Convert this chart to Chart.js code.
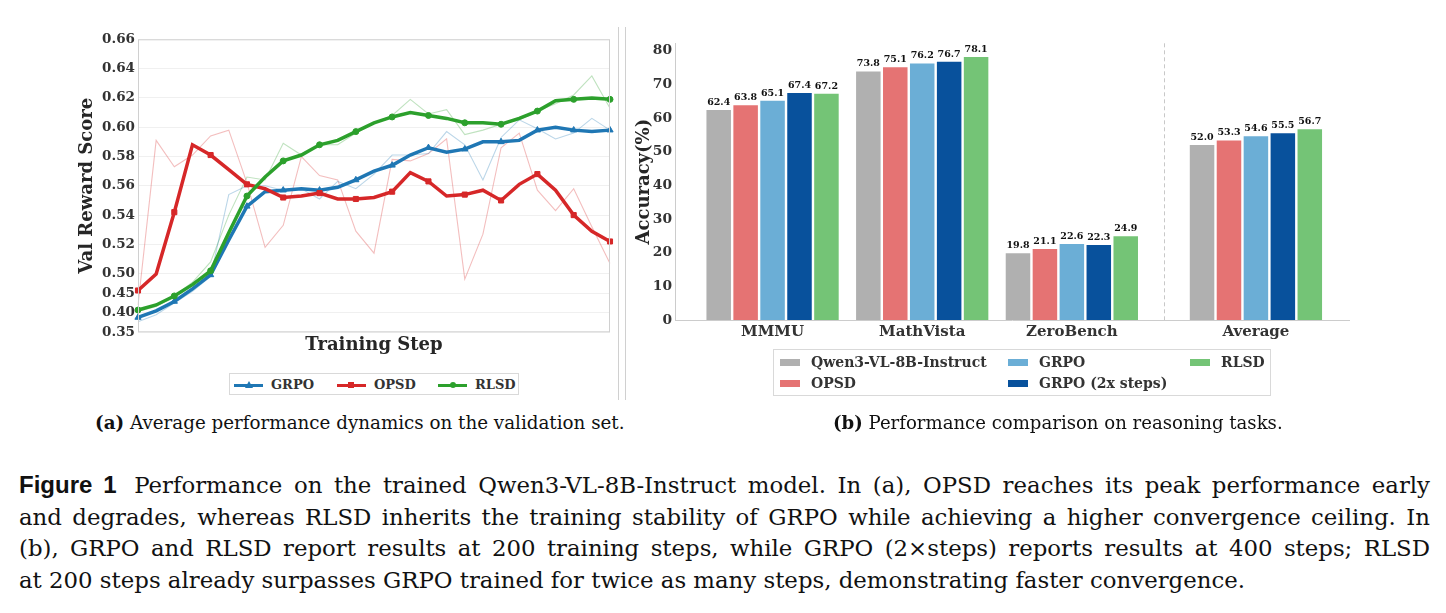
<!DOCTYPE html>
<html>
<head>
<meta charset="utf-8">
<script src="https://cdn.jsdelivr.net/npm/chart.js@4.4.0/dist/chart.umd.min.js"></script>
<style>
body { margin: 0; background: #fff; width: 1446px; height: 613px; position: relative; overflow: hidden; }
.abs { position: absolute; }
.legend { position: absolute; border: 1px solid #d9d9d9; box-sizing: border-box; font-family: "DejaVu Serif"; font-weight: bold; color: #333; }
.litem { position: absolute; white-space: nowrap; }
.txt { font-family: "DejaVu Serif", serif; color: #111; }
.sub { position: absolute; font-size: 19px; white-space: nowrap; line-height: 24px; }
.cap { position: absolute; left: 19px; width: 1411px; top: 469px; font-size: 22px; line-height: 31.7px; }
.cap div { text-align: justify; text-align-last: justify; white-space: nowrap; }
.cap div.last { text-align-last: left; }
.cap.measuring div { text-align: left; text-align-last: left; }
.figlab { font-family: "Liberation Sans"; font-weight: bold; font-size: 24px; margin-right: 6px; }
.divider { position: absolute; top: 27px; height: 373px; width: 1px; background: #d0d0d0; }
</style>
</head>
<body>
<canvas id="dynChart" class="abs" width="575" height="340" style="left:40px;top:20px"></canvas>
<canvas id="accChart" class="abs" width="760" height="330" style="left:600px;top:25px"></canvas>
<div class="divider" style="left:618px"></div>
<div class="divider" style="left:625px"></div>
<div id="dynLegend" class="legend" style="left:229px;top:373px;width:290px;height:22px;font-size:13px"></div>
<div id="accLegend" class="legend" style="left:773px;top:349px;width:498px;height:47px;font-size:14px"></div>
<div id="subA" class="sub txt" style="left:95px;top:411px" data-w="530"><b>(a)</b> Average performance dynamics on the validation set.</div>
<div id="subB" class="sub txt" style="left:833px;top:411px" data-w="450"><b>(b)</b> Performance comparison on reasoning tasks.</div>
<div id="cap" class="cap txt measuring">
<div><span class="capLine"><span class="figlab">Figure 1</span> Performance on the trained Qwen3-VL-8B-Instruct model. In (a), OPSD reaches its peak performance early</span></div>
<div><span class="capLine">and degrades, whereas RLSD inherits the training stability of GRPO while achieving a higher convergence ceiling. In</span></div>
<div><span class="capLine">(b), GRPO and RLSD report results at 200 training steps, while GRPO (2×steps) reports results at 400 steps; RLSD</span></div>
<div class="last"><span class="capLine">at 200 steps already surpasses GRPO trained for twice as many steps, demonstrating faster convergence.</span></div>
</div>
<script>
// (a) validation curves
let steps = [0, 8, 16, 24, 32, 40, 48, 56, 64, 72, 80, 88, 96, 104, 112, 120, 128, 136, 144, 152, 160, 168, 176, 184, 192, 200, 208];
let yTicks = [0.35, 0.40, 0.45, 0.50, 0.52, 0.54, 0.56, 0.58, 0.60, 0.62, 0.64, 0.66];

let grpoRaw = [0.377, 0.395, 0.425, 0.455, 0.493, 0.554, 0.560, 0.560, 0.557, 0.558, 0.551, 0.563, 0.558, 0.568, 0.581, 0.581, 0.582, 0.597, 0.588, 0.564, 0.593, 0.605, 0.599, 0.592, 0.596, 0.606, 0.598];
let grpoSmooth = [0.388, 0.405, 0.429, 0.461, 0.497, 0.523, 0.546, 0.556, 0.557, 0.558, 0.557, 0.559, 0.564, 0.570, 0.574, 0.581, 0.586, 0.583, 0.585, 0.590, 0.590, 0.591, 0.598, 0.600, 0.598, 0.597, 0.598];
let opsdRaw = [0.420, 0.591, 0.573, 0.581, 0.594, 0.598, 0.562, 0.518, 0.533, 0.580, 0.567, 0.564, 0.529, 0.514, 0.578, 0.577, 0.582, 0.592, 0.486, 0.527, 0.586, 0.596, 0.557, 0.543, 0.558, 0.532, 0.507];
let opsdSmooth = [0.457, 0.499, 0.542, 0.588, 0.581, 0.571, 0.561, 0.558, 0.552, 0.553, 0.555, 0.551, 0.551, 0.552, 0.556, 0.569, 0.563, 0.553, 0.554, 0.557, 0.550, 0.561, 0.568, 0.557, 0.540, 0.529, 0.522];
let rlsdRaw = [0.403, 0.416, 0.443, 0.478, 0.508, 0.540, 0.566, 0.564, 0.589, 0.581, 0.588, 0.588, 0.596, 0.603, 0.608, 0.619, 0.609, 0.612, 0.595, 0.598, 0.602, 0.605, 0.611, 0.616, 0.622, 0.635, 0.613];
let rlsdSmooth = [0.407, 0.420, 0.443, 0.472, 0.502, 0.528, 0.553, 0.566, 0.577, 0.581, 0.588, 0.591, 0.597, 0.603, 0.607, 0.610, 0.608, 0.606, 0.603, 0.603, 0.602, 0.606, 0.611, 0.618, 0.619, 0.620, 0.619];

// (b) accuracy bars
let benchmarks = ['MMMU', 'MathVista', 'ZeroBench', 'Average'];
let benchPos = [0, 1, 2, 3.23];
let accTicks = [0, 10, 20, 30, 40, 50, 60, 70, 80];
let qwenAcc = [62.4, 73.8, 19.8, 52.0];
let opsdAcc = [63.8, 75.1, 21.1, 53.3];
let grpoAcc = [65.1, 76.2, 22.6, 54.6];
let grpo2xAcc = [67.4, 76.7, 22.3, 55.5];
let rlsdAcc = [67.2, 78.1, 24.9, 56.7];

const serifBold = (size) => ({ family: 'DejaVu Serif', weight: 'bold', size: size });

// y axis of (a): 0.35-0.50 squeezed, 0.50-0.66 in 0.02 steps
function toUnit(v) { return v >= 0.5 ? (v - 0.5) / 0.02 : (v - 0.5) / 0.075; }
function fromUnit(u) { return u >= 0 ? 0.5 + u * 0.02 : 0.5 + u * 0.075; }
class SplitScale extends Chart.LinearScale {
	buildTicks() { return yTicks.map(v => ({ value: v })); }
	getPixelForValue(v) {
		const lo = toUnit(this.min), hi = toUnit(this.max);
		return this.getPixelForDecimal((toUnit(v) - lo) / (hi - lo));
	}
	getValueForPixel(p) {
		const lo = toUnit(this.min), hi = toUnit(this.max);
		return fromUnit(lo + this.getDecimalForPixel(p) * (hi - lo));
	}
}
SplitScale.id = 'split';
SplitScale.defaults = {};
Chart.register(SplitScale);

const boxPlugin = {
	id: 'box',
	afterDatasetsDraw(chart) {
		const a = chart.chartArea, c = chart.ctx;
		c.save();
		c.strokeStyle = '#d0d0d0';
		c.lineWidth = 1;
		c.strokeRect(a.left + 0.5, a.top + 0.5, a.right - a.left - 1, a.bottom - a.top - 1);
		c.restore();
	}
};

const everyOther = (r) => (ctx) => ctx.dataIndex % 2 === 0 ? r : 0;

function smoothSet(label, data, color, style, r, order) {
	return {
		label: label, data: data, borderColor: color, backgroundColor: color,
		borderWidth: 3.5, pointStyle: style, pointRadius: everyOther(r), pointHoverRadius: 0,
		pointBorderWidth: 1, tension: 0, order: order
	};
}
function rawSet(data, color) {
	return { label: '_raw', data: data, borderColor: color, borderWidth: 1.1, pointRadius: 0, tension: 0, order: 10 };
}

var dynChart = new Chart(document.getElementById('dynChart'), {
	type: 'line',
	data: {
		labels: steps,
		datasets: [
			rawSet(grpoRaw, 'rgba(31,119,180,0.3)'),
			rawSet(opsdRaw, 'rgba(214,39,40,0.3)'),
			rawSet(rlsdRaw, 'rgba(44,160,44,0.3)'),
			smoothSet('GRPO', grpoSmooth, '#1f77b4', 'triangle', 3.6, 3),
			smoothSet('OPSD', opsdSmooth, '#d62728', 'rect', 3.6, 2),
			smoothSet('RLSD', rlsdSmooth, '#2ca02c', 'circle', 3, 1)
		]
	},
	options: {
		responsive: false,
		animation: false,
		events: [],
		layout: { padding: { top: 19.3, right: 5, left: 0, bottom: 0 } },
		plugins: { legend: { display: false }, tooltip: { enabled: false } },
		scales: {
			x: {
				offset: false,
				ticks: { display: false },
				grid: { display: false, drawTicks: false, tickLength: 0 },
				border: { display: false },
				title: { display: true, text: 'Training Step', font: serifBold(18), color: '#262626', padding: { top: 0, bottom: 4 } },
				afterFit: (s) => { s.height = 27.7; }
			},
			y: {
				type: 'split',
				min: 0.35,
				max: 0.66,
				ticks: { autoSkip: false, padding: 3, font: serifBold(13.5), color: '#333', callback: (v) => Number(v).toFixed(2) },
				grid: { color: 'rgba(0,0,0,0.06)', drawTicks: false, tickLength: 0 },
				border: { display: false },
				title: { display: true, text: 'Val Reward Score', font: serifBold(18), color: '#262626', padding: { top: 37, bottom: 0 } },
				afterFit: (s) => { s.width = 98; }
			}
		}
	},
	plugins: [boxPlugin]
});

// bar value labels and the dashed separator before "Average"
const barLabels = {
	id: 'barLabels',
	afterDatasetsDraw(chart) {
		const c = chart.ctx;
		c.save();
		c.font = 'bold 9.5px "DejaVu Serif"';
		c.fillStyle = '#111';
		c.textAlign = 'center';
		c.textBaseline = 'bottom';
		chart.data.datasets.forEach((ds, i) => {
			chart.getDatasetMeta(i).data.forEach((bar, j) => {
				c.fillText(ds.data[j].toFixed(1), bar.x, bar.y - 3);
			});
		});
		const xs = chart.scales.x;
		const sx = Math.round(xs.getPixelForValue((benchPos[2] + benchPos[3]) / 2)) + 0.5;
		c.strokeStyle = '#c8c8c8';
		c.lineWidth = 1;
		c.setLineDash([4, 3]);
		c.beginPath();
		c.moveTo(sx, chart.chartArea.top);
		c.lineTo(sx, chart.chartArea.bottom);
		c.stroke();
		c.restore();
	}
};

function barSet(label, data, color) {
	return { label: label, data: data, backgroundColor: color, borderWidth: 0, barPercentage: 0.91, categoryPercentage: 0.9 };
}

var accChart = new Chart(document.getElementById('accChart'), {
	type: 'bar',
	data: {
		labels: benchPos,
		datasets: [
			barSet('Qwen3-VL-8B-Instruct', qwenAcc, '#b0b0b0'),
			barSet('OPSD', opsdAcc, '#e57373'),
			barSet('GRPO', grpoAcc, '#6baed6'),
			barSet('GRPO (2x steps)', grpo2xAcc, '#08519c'),
			barSet('RLSD', rlsdAcc, '#74c476')
		]
	},
	options: {
		responsive: false,
		animation: false,
		events: [],
		layout: { padding: { top: 18.3, right: 10.7, left: 0, bottom: 0 } },
		plugins: { legend: { display: false }, tooltip: { enabled: false } },
		scales: {
			x: {
				type: 'linear',
				offset: false,
				min: -0.652,
				max: 3.854,
				afterBuildTicks: (s) => { s.ticks = benchPos.map(v => ({ value: v })); },
				ticks: { autoSkip: false, maxRotation: 0, padding: 3, font: serifBold(15), color: '#333',
					callback: (v, i) => benchmarks[i] },
				grid: { display: false, drawTicks: false, tickLength: 0 },
				border: { display: true, color: '#cccccc' },
				afterFit: (s) => { s.height = 35; }
			},
			y: {
				min: 0,
				max: 82.2,
				afterBuildTicks: (s) => { s.ticks = accTicks.map(v => ({ value: v })); },
				ticks: { padding: 3, font: serifBold(13.8), color: '#333' },
				grid: { display: false, drawTicks: false, tickLength: 0 },
				border: { display: true, color: '#cccccc' },
				title: { display: true, text: 'Accuracy(%)', font: serifBold(18), color: '#262626', padding: { top: 34, bottom: 0 } },
				afterFit: (s) => { s.width = 75; }
			}
		}
	},
	plugins: [barLabels]
});

// legends, built from the chart datasets
function markerHtml(style, color) {
	if (style === 'triangle') return '<span style="position:absolute;left:11px;top:-3px;width:0;height:0;border-left:4px solid transparent;border-right:4px solid transparent;border-bottom:7px solid ' + color + '"></span>';
	if (style === 'rect') return '<span style="position:absolute;left:11px;top:-2px;width:6px;height:6px;background:' + color + '"></span>';
	return '<span style="position:absolute;left:12px;top:-2px;width:6px;height:6px;border-radius:3px;background:' + color + '"></span>';
}
const dynLegend = document.getElementById('dynLegend');
const dynX = [4, 107, 208];
dynChart.data.datasets.filter(d => d.label !== '_raw').forEach((d, i) => {
	const item = document.createElement('div');
	item.className = 'litem';
	item.style.left = dynX[i] + 'px';
	item.style.top = '2px';
	item.innerHTML = '<span style="position:absolute;left:0;top:8px;width:29px;height:3px;background:' + d.borderColor + '">' +
		markerHtml(d.pointStyle, d.borderColor) + '</span><span style="position:absolute;left:37px;top:0;line-height:18px">' + d.label + '</span>';
	dynLegend.appendChild(item);
});

const accLegend = document.getElementById('accLegend');
const accCols = [6, 234, 416];
accChart.data.datasets.forEach((d, i) => {
	const col = Math.floor(i / 2), row = i % 2;
	const item = document.createElement('div');
	item.className = 'litem';
	item.style.left = accCols[col] + 'px';
	item.style.top = (3 + row * 20.5) + 'px';
	item.innerHTML = '<span style="position:absolute;left:0;top:6px;width:20px;height:7px;background:' + d.backgroundColor + '"></span>' +
		'<span style="position:absolute;left:31px;top:0;line-height:19px">' + d.label + '</span>';
	accLegend.appendChild(item);
});

// size the caption text so its widths match the figure
['subA', 'subB'].forEach(id => {
	const el = document.getElementById(id);
	const w = el.getBoundingClientRect().width;
	el.style.fontSize = (19 * Number(el.dataset.w) / w) + 'px';
});
const cap = document.getElementById('cap');
let natural = 0;
cap.querySelectorAll('.capLine').forEach(s => { natural += s.getBoundingClientRect().width; });
let fitted = 22 * (3 * 1392 + 1101) / natural;
cap.style.fontSize = fitted + 'px';
// never let a justified line overflow
let widest = 0;
cap.querySelectorAll('.capLine').forEach(s => { widest = Math.max(widest, s.getBoundingClientRect().width); });
if (widest > 1408) cap.style.fontSize = (fitted * 1408 / widest) + 'px';
cap.classList.remove('measuring');
</script>
</body>
</html>
